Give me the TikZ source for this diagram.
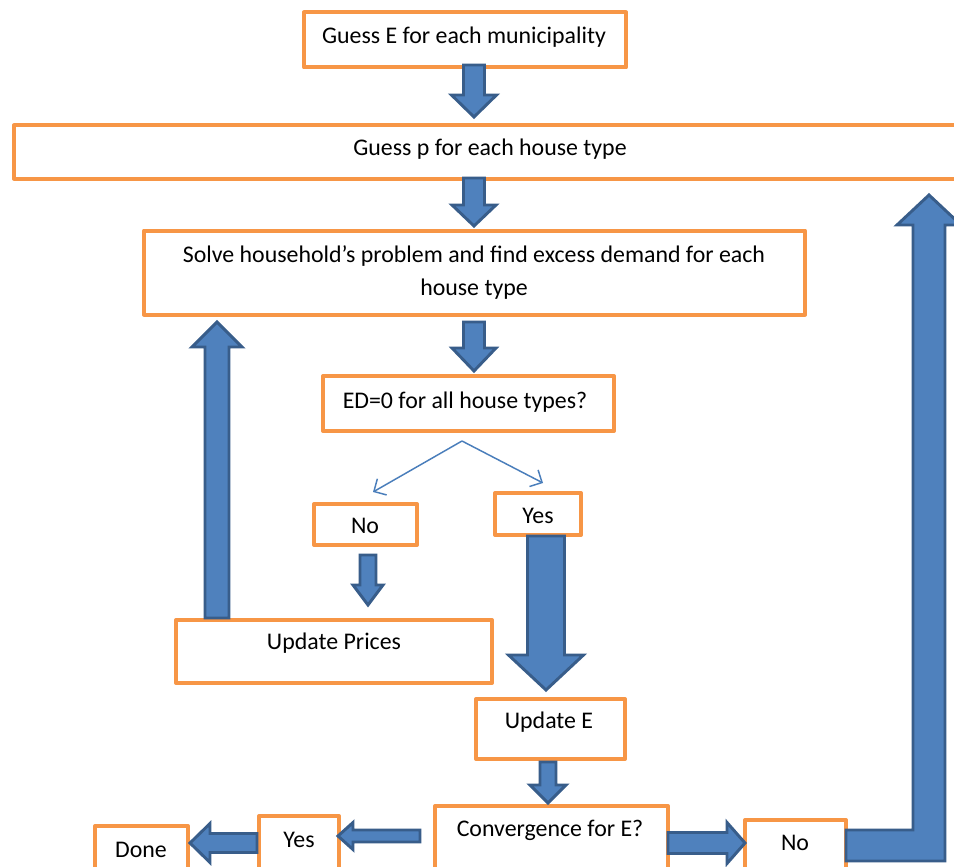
\documentclass[tikz,border=0pt]{standalone}
\usepackage{fontspec}
\setmainfont{Carlito}
\usetikzlibrary{arrows.meta}
\definecolor{oorange}{HTML}{F79646}
\definecolor{bfill}{HTML}{4F81BD}
\definecolor{bline}{HTML}{385D8A}
\definecolor{thinb}{HTML}{4A7EBB}
\newcommand\ArrDown[6]{\draw[barrow] ({#1-#5},#2) -- ({#1+#5},#2) -- ({#1+#5},#3) -- ({#1+#6},#3) -- (#1,#4) -- ({#1-#6},#3) -- ({#1-#5},#3) -- cycle;}
\newcommand\ArrSide[6]{\draw[barrow] (#2,{#1-#5}) -- (#3,{#1-#5}) -- (#3,{#1-#6}) -- (#4,#1) -- (#3,{#1+#6}) -- (#3,{#1+#5}) -- (#2,{#1+#5}) -- cycle;}
\begin{document}
\begin{tikzpicture}[x=0.75pt,y=-0.75pt,
  obox/.style={draw=oorange, fill=white, line width=3pt, line join=round, inner sep=0pt},
  txt/.style={font=\fontsize{17.9}{21}\selectfont, text=black, inner sep=0pt, text height=1.5ex, text depth=0.25ex},
  barrow/.style={fill=bfill, draw=bline, line width=2.2pt, line join=miter},
  thin/.style={draw=thinb, line width=1.1pt, -{Straight Barb[length=7pt,width=14pt]}}]
\useasboundingbox (0,0) rectangle (954,867);
\clip (0,0) rectangle (954,867);
\fill[white] (0,0) rectangle (954,867);
% boxes
\node[obox, minimum width={322*0.75pt}, minimum height={55*0.75pt}] (b1) at (465,40) {};
\node[obox, minimum width={956*0.75pt}, minimum height={53*0.75pt}] (b2) at (491.75,152) {};
\node[obox, minimum width={661*0.75pt}, minimum height={84*0.75pt}] (b3) at (474.5,272.5) {};
\node[obox, minimum width={291*0.75pt}, minimum height={55*0.75pt}] (b4) at (468.5,403.5) {};
\node[obox, minimum width={103*0.75pt}, minimum height={41*0.75pt}] (b5) at (365.5,524.5) {};
\node[obox, minimum width={86*0.75pt}, minimum height={42*0.75pt}] (b6) at (538,514) {};
\node[obox, minimum width={316*0.75pt}, minimum height={63*0.75pt}] (b7) at (334,651.5) {};
\node[obox, minimum width={149*0.75pt}, minimum height={60*0.75pt}] (b8) at (550.5,729) {};
\node[obox, minimum width={233*0.75pt}, minimum height={74*0.75pt}] (b9) at (551.5,843) {};
\node[obox, minimum width={80*0.75pt}, minimum height={74*0.75pt}] (b10) at (299,853) {};
\node[obox, minimum width={93*0.75pt}, minimum height={74*0.75pt}] (b11) at (141.5,863) {};
\node[obox, minimum width={101*0.75pt}, minimum height={74*0.75pt}] (b12) at (795.5,857) {};
% texts
\node[txt] (t1) at (464,40) {Guess E for each municipality};
\node[txt] (t2) at (490,152) {Guess p for each house type};
\node[txt, align=center, text height=, text depth=, font=\fontsize{17.9}{24.75}\selectfont] (t3) at (474,272.5) {Solve household’s problem and find excess demand for each\\house type};
\node[txt] (t4) at (465,405) {ED=0 for all house types?};
\node[txt] (t5) at (365,530) {No};
\node[txt] (t6) at (538,520) {Yes};
\node[txt] (t7) at (334,646) {Update Prices};
\node[txt] (t8) at (549,725) {Update E};
\node[txt] (t9) at (550,833) {Convergence for E?};
\node[txt] (t10) at (299,844) {Yes};
\node[txt] (t11) at (141,854) {Done};
\node[txt] (t12) at (795,847) {No};
% thin split arrows
\coordinate (split) at (462,441);
\coordinate (noend) at (373,492);
\coordinate (yesend) at (543,483);
\draw[thin] (split) -- (noend);
\draw[thin] (split) -- (yesend);
% block arrows
\ArrDown{474}{65}{95}{117}{10.5}{22.5}
\ArrDown{474}{178}{205}{226}{10.5}{22}
\ArrDown{474}{322}{348}{371}{10.5}{22}
\ArrDown{368}{555}{585}{605}{8}{15}
\ArrDown{546}{536}{655}{690}{18.5}{37.5}
\ArrDown{217}{618}{347}{322}{12}{25}
\ArrDown{548}{762}{785}{803}{8}{18}
\ArrSide{836}{420}{353}{338}{6}{13.5}
\ArrSide{843}{257}{210}{190}{9.5}{19.5}
\ArrSide{843}{668}{727}{745}{10.5}{20.5}
\draw[barrow] (846,830) -- (913,830) -- (913,225) -- (897,225) -- (929,195) -- (961,225) -- (945,225) -- (945,861) -- (846,861) -- cycle;
\end{tikzpicture}
\end{document}
